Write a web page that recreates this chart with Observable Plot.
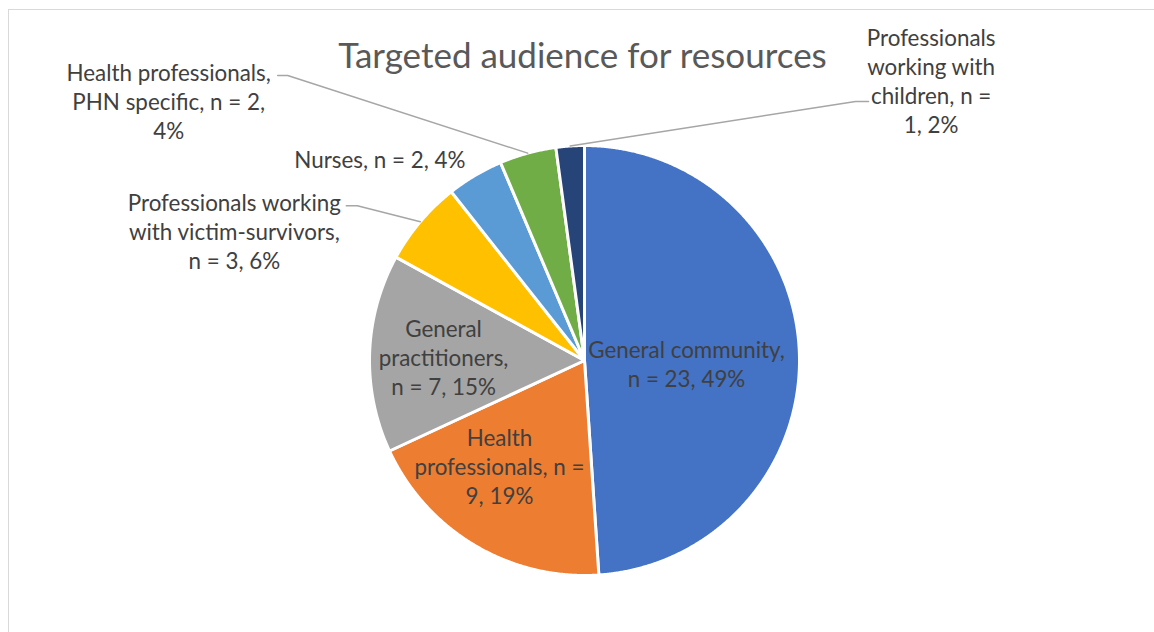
<!DOCTYPE html>
<html>
<head>
<meta charset="utf-8">
<script src="https://cdn.jsdelivr.net/npm/d3@7"></script>
<script src="https://cdn.jsdelivr.net/npm/@observablehq/plot@0.6"></script>
<style>
  html, body { margin: 0; padding: 0; background: #fff; }
  #wrap { position: relative; width: 1154px; height: 632px; overflow: hidden; }
  #frame { position: absolute; left: 8px; top: 9px; width: 1160px; height: 640px;
           border-left: 1.5px solid #d9d9d9; border-top: 1.5px solid #d9d9d9; box-sizing: border-box; }
  #chart { position: absolute; left: 0; top: 0; }
</style>
</head>
<body>
<div id="wrap"><div id="frame"></div><div id="chart"></div></div>
<script>
// ---- data ----
const title = "Targeted audience for resources";
const categories = [
  "General community",
  "Health professionals",
  "General practitioners",
  "Professionals working with victim-survivors",
  "Nurses",
  "Health professionals, PHN specific",
  "Professionals working with children"
];
const counts = [23, 9, 7, 3, 2, 2, 1];
const percents = [49, 19, 15, 6, 4, 4, 2];
const labelLines = [
  ["General community,", "n = 23, 49%"],
  ["Health", "professionals, n =", "9, 19%"],
  ["General", "practitioners,", "n = 7, 15%"],
  ["Professionals working", "with victim-survivors,", "n = 3, 6%"],
  ["Nurses, n = 2, 4%"],
  ["Health professionals,", "PHN specific, n = 2,", "4%"],
  ["Professionals", "working with", "children, n =", "1, 2%"]
];

// ---- styles & layout ----
const colors = ["#4472C4", "#ED7D31", "#A5A5A5", "#FFC000", "#5B9BD5", "#70AD47", "#264478"];
const W = 1154, H = 632, CX = 584, CY = 360, R = 215;
const FONT = "Lato, 'Open Sans', sans-serif";
const LABEL_SIZE = 22.4, TITLE_SIZE = 35;
// inner labels: radius fraction along mid-angle + pixel nudge; outer: pixel offsets from slice edge
const labelLayout = [
  {inside: true, r: 0.47, dx: 1, dy: 6},
  {inside: true, r: 0.63, dx: -16, dy: -11.5},
  {inside: true, r: 0.656, dx: 0, dy: 1},
  {inside: false, lx: -186, ly: 9, ex: -63, ey: -16, tail: -11},
  {inside: false, lx: -95, ly: -17, ex: null},
  {inside: false, lx: -359, ly: -52.5, ex: -240, ey: -77.6, tail: -10},
  {inside: false, lx: 361, ly: -65.5, ex: 285.4, ey: -44.5, tail: 13}
];

// ---- geometry from the data via d3.pie (angles clockwise from 12 o'clock) ----
const arcs = d3.pie().sort(null).value(d => d)(counts);
const slicePts = [];
arcs.forEach((a, i) => {
  const n = Math.max(2, Math.ceil((a.endAngle - a.startAngle) / 0.005));
  slicePts.push({k: categories[i], u: 0, v: 0});
  for (let j = 0; j <= n; j++) {
    const t = a.startAngle + (a.endAngle - a.startAngle) * j / n;
    slicePts.push({k: categories[i], u: Math.sin(t), v: Math.cos(t)});
  }
  slicePts.push({k: categories[i], u: 0, v: 0});
});

const labels = [];
const leaders = [];
arcs.forEach((a, i) => {
  const m = (a.startAngle + a.endAngle) / 2;
  const L = labelLayout[i];
  const txt = labelLines[i].join("\n");
  if (L.inside) {
    labels.push({u: L.r * Math.sin(m) + L.dx / R, v: L.r * Math.cos(m) - L.dy / R, t: txt});
  } else {
    const eu = Math.sin(m), ev = Math.cos(m);
    labels.push({u: eu + L.lx / R, v: ev - L.ly / R, t: txt});
    if (L.ex !== null) {
      const bu = eu + L.ex / R, bv = ev - L.ey / R;
      leaders.push({k: categories[i], u: eu, v: ev});
      leaders.push({k: categories[i], u: bu, v: bv});
      leaders.push({k: categories[i], u: bu + L.tail / R, v: bv});
    }
  }
});

const chart = Plot.plot({
  width: W,
  height: H,
  margin: 0,
  style: {background: "transparent", fontFamily: FONT},
  x: {domain: [-CX / R, (W - CX) / R], axis: null},
  y: {domain: [-(H - CY) / R, CY / R], axis: null},
  color: {domain: categories, range: colors},
  marks: [
    Plot.line(slicePts, {x: "u", y: "v", z: "k", fill: "k", stroke: "white", strokeWidth: 3, strokeLinejoin: "round"}),
    Plot.line(leaders, {x: "u", y: "v", z: "k", stroke: "#a6a6a6", strokeWidth: 1.5}),
    Plot.text(labels, {x: "u", y: "v", text: "t", fontSize: LABEL_SIZE, lineHeight: 29 / LABEL_SIZE,
      fill: "#404040", textAnchor: "middle", lineAnchor: "middle", fontFamily: FONT}),
    Plot.text([title], {frameAnchor: "top", dx: 5, dy: 67, lineAnchor: "bottom", text: d => d,
      fontSize: TITLE_SIZE, fill: "#595959", fontFamily: FONT})
  ]
});
document.getElementById("chart").appendChild(chart);
</script>
</body>
</html>
